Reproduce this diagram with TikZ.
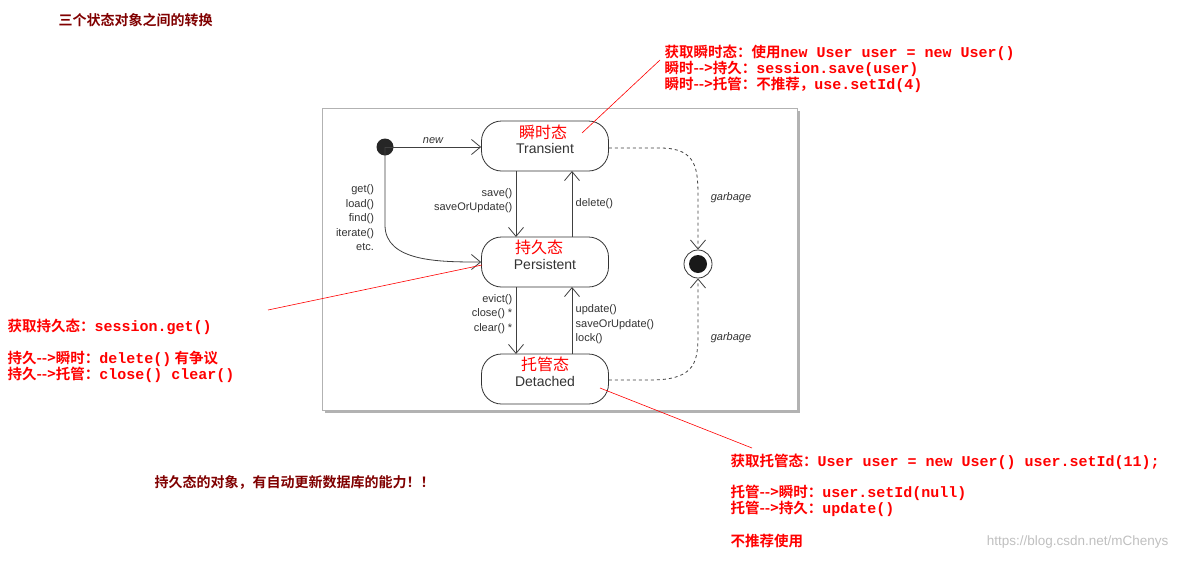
\documentclass[tikz,border=0pt]{standalone}
\usepackage{fontspec}
\setmainfont{Liberation Sans}
\newfontfamily\cjk{Noto Sans CJK SC}[BoldFont={Noto Sans CJK SC Bold}]
\newfontfamily\cjkmono{Liberation Mono}
\usetikzlibrary{arrows.meta,shadows}
\definecolor{dred}{RGB}{128,0,0}
\tikzset{
 x=1pt,y=-1pt,
 state/.style={draw=black!80,line width=0.8pt,rounded corners=20pt,minimum width=127pt,minimum height=50pt,fill=white,align=center,font=\fontsize{14}{12}\selectfont\color{black!80},inner sep=0pt},
 tr/.style={draw=black!75,line width=0.8pt,-{Straight Barb[length=9pt,width=15pt]}},
 gb/.style={tr,dashed},
 lbl/.style={font=\fontsize{11}{14.5}\selectfont\color{black!80},align=right},
 ilbl/.style={font=\fontsize{11}{14}\selectfont\itshape\color{black!80}},
 ann/.style={red,font=\cjk\bfseries\fontsize{14.5}{16}\selectfont,anchor=west,align=left},
 rline/.style={red,line width=0.6pt}
}
\newcommand{\cd}[1]{{\cjkmono\bfseries\fontsize{15}{16}\selectfont #1}}
\begin{document}
\begin{tikzpicture}
\useasboundingbox (0,0) rectangle (1181,560);
\node[draw=black!30,fill=white,drop shadow={shadow xshift=3pt,shadow yshift=-3pt,fill=black!60},minimum width=475pt,minimum height=302pt,inner sep=0pt] (panel) at (559.5,259) {};
\node[state] (tr) at (545,146) {\hbox{}\\[4pt]Transient};
\node[state] (pe) at (545,262) {\hbox{}\\[4pt]Persistent};
\node[state] (de) at (545,379) {\hbox{}\\[4pt]Detached};
\node[red,font=\cjk\fontsize{16}{16}\selectfont] (trc) at (543,132) {瞬时态};
\node[red,font=\cjk\fontsize{16}{16}\selectfont] (pec) at (539,247) {持久态};
\node[red,font=\cjk\fontsize{16}{16}\selectfont] (dec) at (545,364) {托管态};
\fill[black!85] (385,147) circle (8.5) coordinate (init);
\node[circle,draw=black!80,line width=0.8pt,minimum size=28pt,inner sep=0pt] (fin) at (698,264) {};
\fill[black!90] (fin.center) circle (9);
\draw[tr] (init) -- node[above,ilbl]{new} (tr.west|-init);
\draw[tr] (init) -- (385,225) .. controls (385,262) and (440,262) .. (pe.west);
\node[lbl] (l1) at (355,218) {get()\\load()\\find()\\iterate()\\etc.};
\draw[tr] (516,171) -- node[left,lbl,pos=0.45]{save()\\saveOrUpdate()} (516,237);
\draw[tr] (572,237) -- node[right,lbl,align=left]{delete()} (572,171);
\draw[tr] (516,287) -- node[left,lbl,pos=0.4]{evict()\\close() *\\clear() *} (516,354);
\draw[tr] (572,354) -- node[right,lbl,align=left,pos=0.5,yshift=-4pt]{update()\\saveOrUpdate()\\lock()} (572,287);
\draw[gb] (tr.east|-0,148) -- (660,148) .. controls (698,148) and (698,170) .. (698,200) -- (fin.north);
\draw[gb] (de.east|-0,380) -- (650,380) .. controls (698,380) and (698,360) .. (698,330) -- (fin.south);
\node[ilbl] (g1) at (731,198) {garbage};
\node[ilbl] (g2) at (731,338) {garbage};
% annotations
\node[dred,font=\cjk\bfseries\fontsize{14}{14}\selectfont,anchor=west] (title) at (55,20) {三个状态对象之间的转换};
\node[ann] (a1) at (661,69) {获取瞬时态：使用\cd{new User user = new User()}\\瞬时-->持久：\cd{session.save(user)}\\瞬时-->托管：不推荐，\cd{use.setId(4)}};
\node[ann] (a2) at (4,327) {获取持久态：\cd{session.get()}};
\node[ann] (a3) at (4,367) {持久-->瞬时：\cd{delete()} 有争议\\持久-->托管：\cd{close() clear()}};
\node[ann] (a4) at (727,462) {获取托管态：\cd{User user = new User() user.setId(11);}};
\node[ann] (a5) at (727,501) {托管-->瞬时：\cd{user.setId(null)}\\托管-->持久：\cd{update()}};
\node[ann] (a6) at (727,541) {不推荐使用};
\node[dred,font=\cjk\bfseries\fontsize{14}{14}\selectfont,anchor=west] (note) at (151,482) {持久态的对象，有自动更新数据库的能力！！};
\node[black!25,font=\fontsize{13.5}{14}\selectfont,anchor=east] (wm) at (1172,542) {https://blog.csdn.net/mChenys};
\coordinate (p1) at (582,133); \coordinate (p2) at (660,60);
\coordinate (q1) at (482,265); \coordinate (q2) at (268,310);
\coordinate (r1) at (600,388); \coordinate (r2) at (752,448);
\draw[rline] (p1) -- (p2);
\draw[rline] (q1) -- (q2);
\draw[rline] (r1) -- (r2);
\end{tikzpicture}
\end{document}
